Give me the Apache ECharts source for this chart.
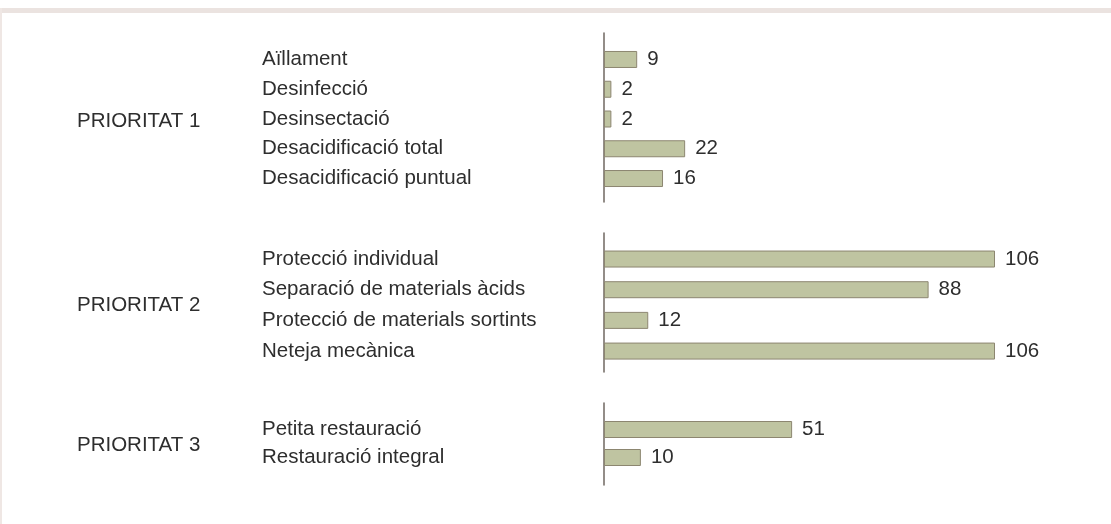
<!DOCTYPE html>
<html>
<head>
<meta charset="utf-8">
<script src="https://cdn.jsdelivr.net/npm/echarts@6/dist/echarts.min.js"></script>
<style>
  html, body { margin: 0; padding: 0; background: #fff; }
  #chart { width: 1111px; height: 524px; }
</style>
</head>
<body>
<div id="chart"></div>
<script>
  // group titles
  const groupNames = ['PRIORITAT 1', 'PRIORITAT 2', 'PRIORITAT 3']

  // categories and values per group
  const cats1 = ['Aïllament', 'Desinfecció', 'Desinsectació', 'Desacidificació total', 'Desacidificació puntual']
  const vals1 = [9, 2, 2, 22, 16]
  const cats2 = ['Protecció individual', 'Separació de materials àcids', 'Protecció de materials sortints', 'Neteja mecànica']
  const vals2 = [106, 88, 12, 106]
  const cats3 = ['Petita restauració', 'Restauració integral']
  const vals3 = [51, 10]

  const xMax = 106

  const font = 'Liberation Sans, Arial, sans-serif'
  const textColor = '#2e2e2e'
  const fontSize = 20.5

  // layout of each block (bars / vertical axis line)
  const blocks = [
    { cats: cats1, vals: vals1, barTop: 44.6, barH: 148.8, lineTop: 33, lineH: 169, titleY: 121 },
    { cats: cats2, vals: vals2, barTop: 243.7, barH: 122.7, lineTop: 233, lineH: 139, titleY: 305 },
    { cats: cats3, vals: vals3, barTop: 415.5, barH: 56, lineTop: 403, lineH: 82, titleY: 445 }
  ]

  const grid = []
  const xAxis = []
  const yAxis = []
  const series = []
  const title = []

  blocks.forEach((b, i) => {
    const gBar = grid.length
    grid.push({ left: 604, width: 391, top: b.barTop, height: b.barH })
    xAxis.push({ gridIndex: gBar, type: 'value', min: 0, max: xMax, show: false })
    yAxis.push({
      gridIndex: gBar,
      type: 'category',
      data: b.cats,
      inverse: true,
      axisLine: { show: false },
      axisTick: { show: false },
      axisLabel: {
        align: 'left',
        margin: 342,
        color: textColor,
        fontSize: fontSize,
        fontFamily: font,
        padding: [4, 0, 0, 0]
      }
    })
    series.push({
      type: 'bar',
      xAxisIndex: gBar,
      yAxisIndex: gBar,
      data: b.vals,
      barWidth: 17,
      itemStyle: { color: '#bfc4a1', borderColor: '#8c8670', borderWidth: 1 },
      label: {
        show: true,
        position: 'right',
        distance: 10,
        color: textColor,
        fontSize: fontSize,
        fontFamily: font,
        padding: [2, 0, 0, 0]
      },
      silent: true
    })

    // taller grid only for the vertical axis line of the block
    const gLine = grid.length
    grid.push({ left: 604, width: 391, top: b.lineTop, height: b.lineH })
    xAxis.push({ gridIndex: gLine, type: 'value', min: 0, max: xMax, show: false })
    yAxis.push({
      gridIndex: gLine,
      type: 'value',
      min: 0,
      max: 1,
      axisLine: { show: true, lineStyle: { color: '#6f6760', width: 1.5 } },
      axisTick: { show: false },
      axisLabel: { show: false },
      splitLine: { show: false }
    })

    title.push({
      text: groupNames[i],
      left: 77,
      top: b.titleY - 12,
      padding: 0,
      textStyle: {
        color: textColor,
        fontSize: fontSize,
        fontWeight: 'normal',
        fontFamily: font,
        lineHeight: 24
      }
    })
  })

  const chart = echarts.init(document.getElementById('chart'))
  chart.setOption({
    backgroundColor: '#fff',
    animation: false,
    title: title,
    grid: grid,
    xAxis: xAxis,
    yAxis: yAxis,
    series: series,
    graphic: [
      { type: 'rect', left: 0, top: 8, shape: { width: 1111, height: 5 }, style: { fill: '#ebe3e0' }, silent: true },
      { type: 'rect', left: 0, top: 8, shape: { width: 2, height: 516 }, style: { fill: '#efe7e4' }, silent: true }
    ]
  })
</script>
</body>
</html>
